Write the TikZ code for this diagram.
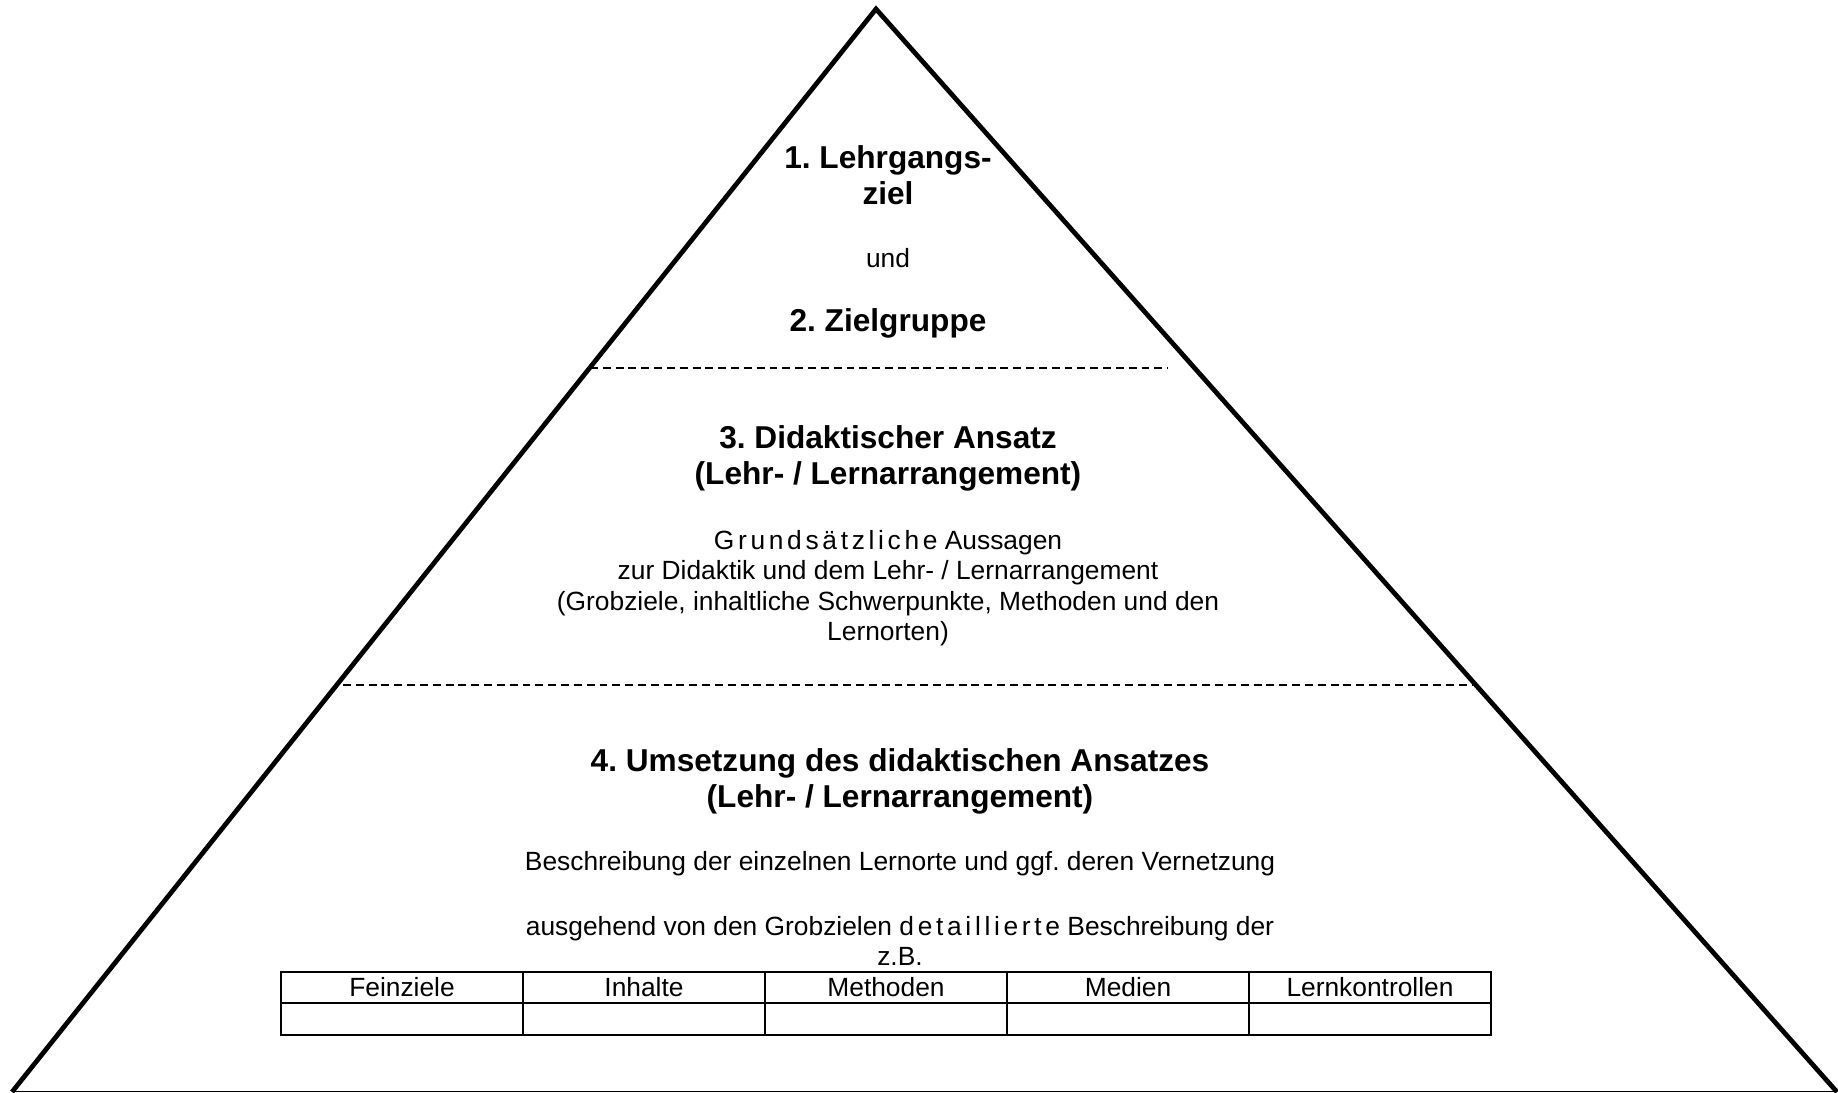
\documentclass[tikz,border=0pt]{standalone}
\usepackage{fontspec}
\setmainfont{Liberation Sans}
\usetikzlibrary{positioning}
\tikzset{
    heading/.style={font=\fontsize{18}{20.5}\selectfont\bfseries, align=center, inner sep=0pt},
    body/.style={font=\fontsize{15}{17.3}\selectfont, align=center, inner sep=0pt},
    cell/.style={draw, line width=0.9pt, minimum width=4.84cm, minimum height=0.63cm,
        inner sep=0pt, font=\fontsize{15}{17.3}\selectfont},
    divider/.style={dashed, line width=0.6pt, dash pattern=on 4.5pt off 2.8pt}
}
\newcommand{\spaced}[1]{{\addfontfeature{LetterSpace=14}#1}}
\frenchspacing

\begin{document}
\begin{tikzpicture}[x=0.02cm, y=-0.02cm]
	\useasboundingbox (0,0) rectangle (1838,1092);
	% pyramid
	\draw[line width=2.7pt] (12,1092) -- (876,9) -- (1837,1092);
	\draw[line width=0.6pt] (12,1091.5) -- (1837,1091.5);
	\draw[divider] (590,368) -- (1168,368);
	\draw[divider] (343,685) -- (1472,685);
	% top
	\node[heading] at (888,175) (goal) {1. Lehrgangs-\\ziel};
	\node[body] at (888,258) (und) {und};
	\node[heading] at (888,323) (group) {2. Zielgruppe};
	% middle
	\node[heading] at (888,458) (approach) {3. Didaktischer Ansatz\\(Lehr- / Lernarrangement)};
	\node[body] at (888,588) (basics) {\spaced{Grundsätzliche} Aussagen\\zur Didaktik und dem Lehr- / Lernarrangement\\(Grobziele, inhaltliche Schwerpunkte, Methoden und den\\Lernorten)};
	% bottom
	\node[heading] at (900,781) (impl) {4. Umsetzung des didaktischen Ansatzes\\(Lehr- / Lernarrangement)};
	\node[body] at (900,864) (places) {Beschreibung der einzelnen Lernorte und ggf. deren Vernetzung};
	\node[body] at (900,941) (detail) {ausgehend von den Grobzielen \spaced{detaillierte} Beschreibung der\\z.B.};
	% table
	\foreach \name [count=\i from 0] in {Feinziele, Inhalte, Methoden, Medien, Lernkontrollen} {
		\node[cell] at (402+242*\i,987.5) (head\i) {\name};
		\node[cell] at (402+242*\i,1019) (cell\i) {};
	}
\end{tikzpicture}
\end{document}
